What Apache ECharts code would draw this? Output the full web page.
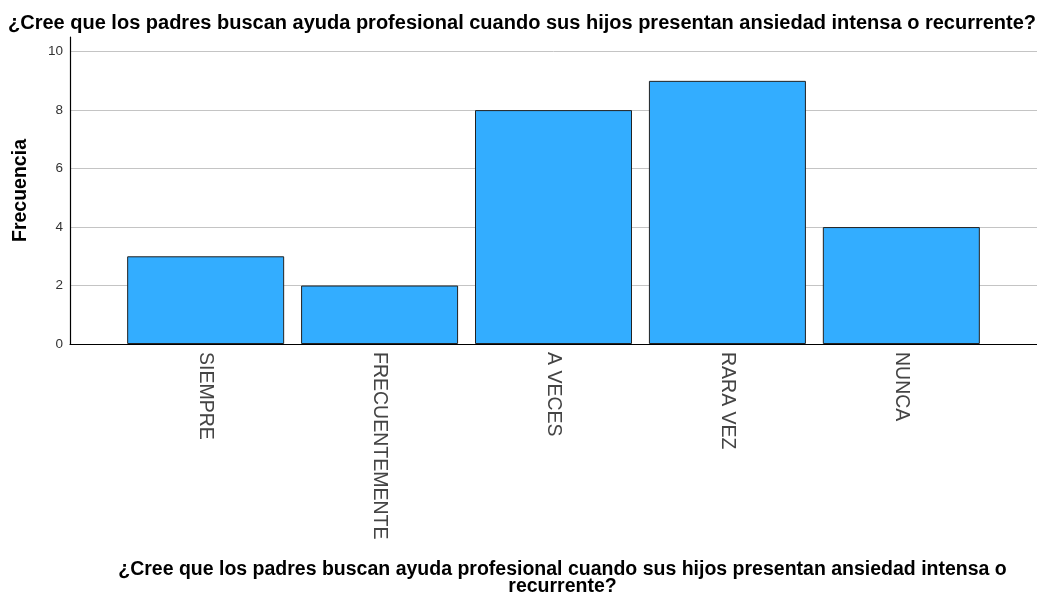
<!DOCTYPE html>
<html>
<head>
<meta charset="utf-8">
<script src="https://cdn.jsdelivr.net/npm/echarts@6/dist/echarts.min.js"></script>
<style>
  html, body { margin: 0; padding: 0; background: #fff; }
  #chart { width: 1037px; height: 597px; }
</style>
</head>
<body>
<div id="chart"></div>
<script>
var pregunta = '¿Cree que los padres buscan ayuda profesional cuando sus hijos presentan ansiedad intensa o recurrente?';
var nombreEjeX = '¿Cree que los padres buscan ayuda profesional cuando sus hijos presentan ansiedad intensa o\nrecurrente?';
var categorias = ['SIEMPRE', 'FRECUENTEMENTE', 'A VECES', 'RARA VEZ', 'NUNCA'];
var frecuencias = [3, 2, 8, 9, 4];

var chart = echarts.init(document.getElementById('chart'));
var fuente = '"Liberation Sans", Arial, sans-serif';

var option = {
  animation: false,
  textStyle: { fontFamily: fuente },
  title: {
    text: pregunta,
    left: 3,
    top: 8,
    textStyle: { fontSize: 20, fontWeight: 'bold', color: '#000', fontFamily: fuente }
  },
  grid: { left: 70, right: 0, top: 37, bottom: 253, outerBoundsMode: 'none' },
  xAxis: {
    type: 'value',
    min: -0.78,
    max: 4.78,
    splitLine: { show: false },
    axisTick: { show: false },
    axisLine: { show: true, onZero: false, lineStyle: { color: '#000', width: 1.2 } },
    axisLabel: {
      customValues: [0, 1, 2, 3, 4],
      rotate: -90,
      margin: 8,
      fontSize: 19.5,
      color: '#444',
      formatter: function (v) { return categorias[Math.round(v)]; }
    },
    name: nombreEjeX,
    nameLocation: 'middle',
    nameGap: 217,
    nameTextStyle: { fontSize: 19.5, fontWeight: 'bold', color: '#000', lineHeight: 17, padding: [0, 0, 0, 18] }
  },
  yAxis: {
    type: 'value',
    min: 0,
    max: 10.5,
    interval: 2,
    axisLine: { show: true, onZero: false, lineStyle: { color: '#000', width: 1.2 } },
    axisTick: { show: false },
    axisLabel: { showMaxLabel: false, fontSize: 13.5, color: '#333', margin: 7 },
    splitLine: { show: true, showMaxLine: false, lineStyle: { color: '#c4c4c4', width: 1 } },
    name: 'Frecuencia',
    nameLocation: 'middle',
    nameGap: 39,
    nameTextStyle: { fontSize: 19.5, fontWeight: 'bold', color: '#000' }
  },
  series: [{
    type: 'bar',
    barWidth: 157,
    data: frecuencias.map(function (v, i) { return [i, v]; }),
    itemStyle: { color: '#33adff', borderColor: '#222', borderWidth: 1 }
  }]
};

chart.setOption(option);
</script>
</body>
</html>
